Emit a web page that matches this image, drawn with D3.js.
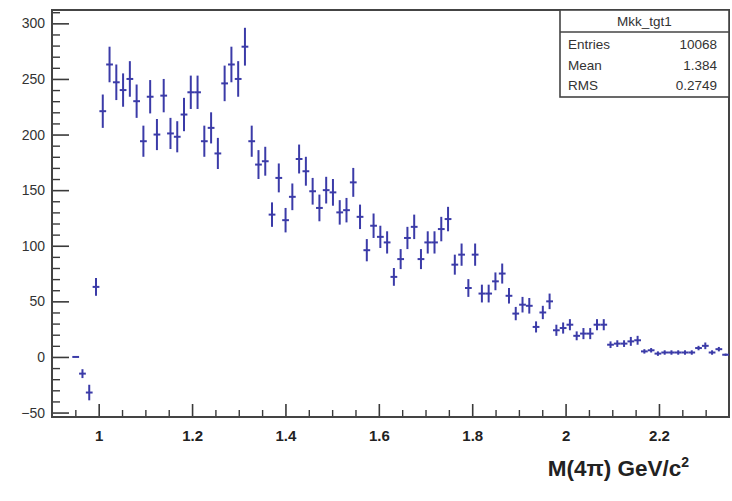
<!DOCTYPE html>
<html>
<head>
<meta charset="utf-8">
<script src="https://cdn.jsdelivr.net/npm/d3@7"></script>
<style>
  html, body { margin: 0; padding: 0; background: #fff; }
  svg { display: block; font-family: "Liberation Sans", Arial, sans-serif; }
</style>
</head>
<body>
<svg id="chart" width="732" height="501"></svg>
<script>
// Histogram definition
const histName = "Mkk_tgt1";
const nBins = 100;
const xLow = 0.9;
const xHigh = 2.35;
const firstDrawnBin = 3;

// Bin contents for bins 3..99
const counts = [
  0, -15, -32, 63, 221, 263, 247, 240, 250, 230,
  194, 234, 200, 235, 201, 198, 218, 238, 238, 194,
  206, 183, 246, 263, 250, 279, 194, 173, 176, 128,
  161, 123, 144, 178, 167, 149, 134, 150, 148, 130,
  132, 157, 126, 96, 118, 108, 103, 72, 88, 107,
  117, 88, 103, 103, 115, 124, 83, 92, 62, 92,
  57, 57, 68, 75, 55, 39, 47, 46, 27, 40,
  50, 24, 26, 29, 19, 21, 21, 29, 29, 11,
  12, 12, 14, 15, 5, 6, 3, 4, 4, 4,
  4, 4, 8, 10, 4, 7, 2
];
const errors = [
  0, 4, 7, 8, 15, 16, 16, 15, 16, 15,
  14, 15, 14, 15, 14, 14, 15, 15, 15, 14,
  14, 14, 16, 16, 16, 17, 14, 13, 13, 11,
  13, 11, 12, 13, 13, 12, 12, 12, 12, 11,
  11, 13, 11, 10, 11, 10, 10, 8, 9, 10,
  11, 9, 10, 10, 11, 11, 9, 10, 8, 10,
  8, 8, 8, 9, 7, 6, 7, 7, 5, 6,
  7, 5, 5, 5, 4, 5, 5, 5, 5, 3,
  3, 3, 4, 4, 2, 2, 2, 2, 2, 2,
  2, 2, 2, 3, 2, 2, 1
];

const xTickValues = [1, 1.2, 1.4, 1.6, 1.8, 2, 2.2];
const xTickLabels = ["1", "1.2", "1.4", "1.6", "1.8", "2", "2.2"];
const yTickValues = [-50, 0, 50, 100, 150, 200, 250, 300];
const yDomain = [-54, 312];
const xAxisTitle = "M(4\u03C0) GeV/c";

const statsLabels = ["Entries", "Mean", "RMS"];
const statsValues = ["10068", "1.384", "0.2749"];

// Layout
const W = 732, H = 501;
const m = { left: 52, top: 10, right: 3, bottom: 84 };
const pw = W - m.left - m.right;
const ph = H - m.top - m.bottom;

const svg = d3.select("#chart");
svg.append("rect").attr("width", W).attr("height", H).attr("fill", "#fff");

const x = d3.scaleLinear().domain([xLow, xHigh]).range([m.left, m.left + pw]);
const y = d3.scaleLinear().domain(yDomain).range([m.top + ph, m.top]);

const binW = (xHigh - xLow) / nBins;
const data = counts.map((c, i) => {
  const k = firstDrawnBin + i;
  return { lo: xLow + k * binW, hi: xLow + (k + 1) * binW, c: c, e: errors[i] };
});

const axisColor = "#3a3a3a";

// Minor ticks
const yMinor = d3.range(-50, 311, 10).filter(v => !yTickValues.includes(v));
svg.append("g").attr("transform", `translate(${m.left},0)`)
  .call(d3.axisLeft(y).tickValues(yMinor).tickSize(-8).tickFormat(""))
  .call(g => g.select(".domain").remove())
  .selectAll("line").attr("stroke", axisColor).attr("stroke-width", 1.4);

const xMinor = d3.range(0.95, 2.35, 0.05).map(v => +v.toFixed(2)).filter(v => !xTickValues.some(t => Math.abs(t - v) < 1e-6));
svg.append("g").attr("transform", `translate(0,${m.top + ph})`)
  .call(d3.axisBottom(x).tickValues(xMinor).tickSize(-7).tickFormat(""))
  .call(g => g.select(".domain").remove())
  .selectAll("line").attr("stroke", axisColor).attr("stroke-width", 1.4);

// Major axes
const yAxis = svg.append("g").attr("transform", `translate(${m.left},0)`)
  .call(d3.axisLeft(y).tickValues(yTickValues).tickSize(-17).tickPadding(7).tickFormat(d3.format("d")));
yAxis.select(".domain").remove();
yAxis.selectAll("line").attr("stroke", axisColor).attr("stroke-width", 1.6);
yAxis.selectAll("text").attr("font-size", 14).attr("fill", "#333")
  .attr("font-family", "'Liberation Sans', Arial, sans-serif");

const xAxis = svg.append("g").attr("transform", `translate(0,${m.top + ph})`)
  .call(d3.axisBottom(x).tickValues(xTickValues).tickSize(-13).tickPadding(13)
    .tickFormat((d, i) => xTickLabels[i]));
xAxis.select(".domain").remove();
xAxis.selectAll("line").attr("stroke", axisColor).attr("stroke-width", 1.6);
xAxis.selectAll("text").attr("font-size", 15).attr("font-weight", "bold").attr("fill", "#222")
  .attr("font-family", "'Liberation Sans', Arial, sans-serif");

// Frame
svg.append("rect")
  .attr("x", m.left).attr("y", m.top).attr("width", pw).attr("height", ph)
  .attr("fill", "none").attr("stroke", "#444").attr("stroke-width", 2);

// Data: error bars
const markColor = "#3b3ba8";
const marks = svg.append("g");
marks.selectAll("line.v").data(data.filter(d => d.e > 0)).join("line")
  .attr("class", "v")
  .attr("x1", d => x((d.lo + d.hi) / 2)).attr("x2", d => x((d.lo + d.hi) / 2))
  .attr("y1", d => y(d.c - d.e)).attr("y2", d => y(d.c + d.e))
  .attr("stroke", markColor).attr("stroke-width", 2);
marks.selectAll("line.h").data(data).join("line")
  .attr("class", "h")
  .attr("x1", d => x(d.lo)).attr("x2", d => x(d.hi))
  .attr("y1", d => y(d.c)).attr("y2", d => y(d.c))
  .attr("stroke", markColor).attr("stroke-width", 2);

// Axis title
const title = svg.append("text")
  .attr("x", 689).attr("y", 476)
  .attr("text-anchor", "end")
  .attr("font-size", 22.5).attr("font-weight", "bold").attr("fill", "#222")
  .attr("font-family", "'Liberation Sans', Arial, sans-serif");
title.append("tspan").text(xAxisTitle);
title.append("tspan").attr("dy", -9).attr("font-size", 14).text("2");

// Stats box
const sb = { x: 560, y: 10, w: 169, h: 87, split: 22 };
const stats = svg.append("g");
stats.append("rect").attr("x", sb.x).attr("y", sb.y).attr("width", sb.w).attr("height", sb.h)
  .attr("fill", "#fff").attr("stroke", "#444").attr("stroke-width", 1.6);
stats.append("line").attr("x1", sb.x).attr("x2", sb.x + sb.w)
  .attr("y1", sb.y + sb.split).attr("y2", sb.y + sb.split)
  .attr("stroke", "#444").attr("stroke-width", 1.4);
stats.append("text").attr("x", sb.x + sb.w / 2).attr("y", 26)
  .attr("text-anchor", "middle").attr("font-size", 13.5).attr("fill", "#333")
  .text(histName);
statsLabels.forEach((lab, i) => {
  const yy = 49 + i * 20.5;
  stats.append("text").attr("x", sb.x + 8).attr("y", yy)
    .attr("font-size", 13.5).attr("fill", "#333").text(lab);
  stats.append("text").attr("x", sb.x + sb.w - 12).attr("y", yy)
    .attr("text-anchor", "end").attr("font-size", 13.5).attr("fill", "#333").text(statsValues[i]);
});
</script>
</body>
</html>
